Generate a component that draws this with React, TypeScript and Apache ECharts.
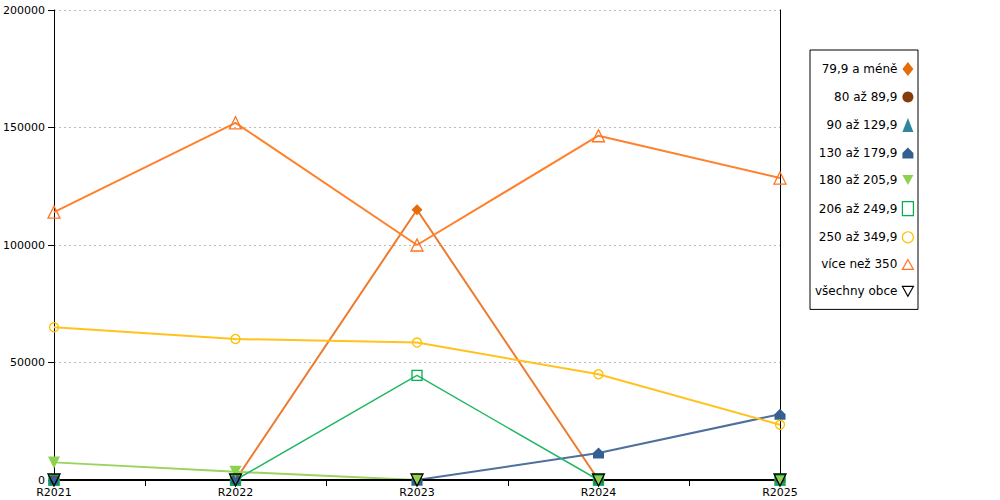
import React, { useEffect, useRef } from "react";
import * as echarts from "echarts";

const categories = ["R2021", "R2022", "R2023", "R2024", "R2025"];
const seriesNames = [
  "79,9 a méně",
  "80 až 89,9",
  "90 až 129,9",
  "130 až 179,9",
  "180 až 205,9",
  "206 až 249,9",
  "250 až 349,9",
  "více než 350",
  "všechny obce",
];
const s799 = [0, 0, 115000, 0, 0];
const s80 = [0, 0, 0, 0, 0];
const s90 = [0, 0, 0, 0, 0];
const s130 = [0, 0, 0, 11500, 28000];
const s180 = [7500, 3500, 0, 0, 0];
const s206 = [0, 0, 44500, 0, 0];
const s250 = [65000, 60000, 58500, 45000, 23500];
const s350 = [114000, 152000, 100000, 146500, 128500];
const sAll = [0, 0, 0, 0, 0];

const HOUSE = "path://M5,0 L10,5 L10,10 L0,10 L0,5 Z";
const DOWN = "path://M0,0 L10,0 L5,9 Z";
const UP = "path://M5,0 L10,9 L0,9 Z";

type Sty = {
  symbol: string;
  size: number;
  fill: string;
  border: string;
  line: string;
  lw: number;
};
const styles: Sty[] = [
  { symbol: "diamond", size: 11, fill: "#e46c0a", border: "#e46c0a", line: "#ee7a2e", lw: 2 },
  { symbol: "circle", size: 11, fill: "#843c0c", border: "#843c0c", line: "#8a4a1c", lw: 2 },
  { symbol: "triangle", size: 11, fill: "#31859c", border: "#31859c", line: "#3a8ea5", lw: 2 },
  { symbol: HOUSE, size: 11, fill: "#365f91", border: "#365f91", line: "#4f6f9c", lw: 2 },
  { symbol: DOWN, size: 12, fill: "#8fd14f", border: "#8fd14f", line: "#9ad45c", lw: 2 },
  { symbol: "rect", size: 10, fill: "transparent", border: "#00b050", line: "#22b864", lw: 1.5 },
  { symbol: "circle", size: 9, fill: "transparent", border: "#ffc000", line: "#ffc21f", lw: 2 },
  { symbol: UP, size: 12, fill: "transparent", border: "#ff7420", line: "#ff812c", lw: 2 },
  { symbol: DOWN, size: 12, fill: "transparent", border: "#000000", line: "#000000", lw: 2 },
];
const dataSets = [s799, s80, s90, s130, s180, s206, s250, s350, sAll];

export default function App() {
  const ref = useRef<HTMLDivElement>(null);
  useEffect(() => {
    document.body.style.margin = "0";
    const chart = echarts.init(ref.current!, null, { renderer: "svg" });
    const font = "DejaVu Sans";
    chart.setOption({
      animation: false,
      backgroundColor: "#ffffff",
      textStyle: { fontFamily: font },
      grid: { left: 54, right: 220, top: 10, bottom: 20 },
      legend: {
        orient: "vertical",
        left: 810,
        top: 50,
        align: "right",
        borderColor: "#000",
        borderWidth: 1,
        padding: [12, 4, 12, 5],
        itemWidth: 11,
        itemHeight: 14,
        itemGap: 15,
        textStyle: { fontFamily: font, fontSize: 12, color: "#000" },
        data: seriesNames.map((n, i) => ({
          name: n,
          icon: styles[i].symbol,
          itemStyle: {
            color: styles[i].fill,
            borderColor: styles[i].border,
            borderWidth: styles[i].fill === "transparent" ? 1.2 : 0,
          },
        })),
      },
      xAxis: [
        {
          type: "category",
          data: categories,
          boundaryGap: false,
          axisLine: { lineStyle: { color: "#000", width: 1 } },
          axisTick: { show: false },
          axisLabel: { color: "#000", fontSize: 11, fontFamily: font, margin: 7 },
          splitLine: { show: false },
        },
        {
          type: "category",
          data: ["", "", "", "", "", "", "", "", ""],
          boundaryGap: false,
          position: "bottom",
          axisLine: { show: false },
          axisLabel: { show: false },
          axisTick: {
            show: true,
            length: 6,
            interval: (index: number) => index % 2 === 1,
            lineStyle: { color: "#000" },
          },
          splitLine: { show: false },
        },
      ],
      yAxis: [
        {
          type: "value",
          min: 0,
          max: 200000,
          interval: 50000,
          axisLine: { show: true, lineStyle: { color: "#000" } },
          axisTick: { show: true, length: 6, lineStyle: { color: "#000" } },
          axisLabel: {
            color: "#000",
            fontSize: 11,
            fontFamily: font,
            margin: 9,
            formatter: (v: number) => String(v),
          },
          splitLine: { show: true, lineStyle: { color: "#bbbbbb", type: [2, 3] } },
        },
        {
          type: "value",
          position: "right",
          min: 0,
          max: 200000,
          interval: 50000,
          axisLine: { show: true, lineStyle: { color: "#000" } },
          axisTick: { show: false },
          axisLabel: { show: false },
          splitLine: { show: false },
        },
      ],
      series: seriesNames.map((n, i) => ({
        name: n,
        type: "line",
        data: dataSets[i],
        symbol: styles[i].symbol,
        symbolSize: styles[i].size,
        showSymbol: true,
        lineStyle: { color: styles[i].line, width: styles[i].lw },
        itemStyle: {
          color: styles[i].fill,
          borderColor: styles[i].border,
          borderWidth: styles[i].fill === "transparent" ? 1.3 : 0,
          opacity: 1,
        },
        emphasis: { disabled: true },
      })),
    });
    return () => chart.dispose();
  }, []);
  return <div ref={ref} style={{ width: 1000, height: 500 }} />;
}
